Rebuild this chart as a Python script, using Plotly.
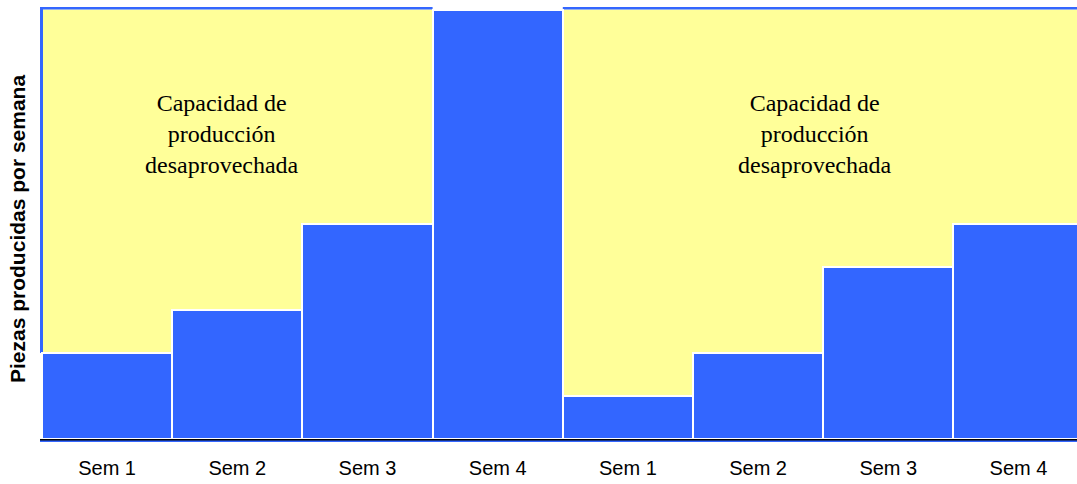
import plotly.graph_objects as go

# Weekly output for two four-week periods, against a weekly capacity of 10
semanas = ["Sem 1", "Sem 2", "Sem 3", "Sem 4", "Sem 1", "Sem 2", "Sem 3", "Sem 4"]
piezas = [2, 3, 5, 10, 1, 2, 4, 5]
capacidad = 10

AZUL = "#3366FF"
AMARILLO = "#FFFF99"

W, H = 1077, 484
M_L, M_T, M_B = 40, 7, 45
plot_w = W - M_L
plot_h = H - M_T - M_B

x_pos = list(range(len(semanas)))
px_per_bar = 130.2
x_lo = -0.5 - 2 / px_per_bar
x_hi = x_lo + plot_w / px_per_bar
y_hi = capacidad + 2.5 / 42.95

fig = go.Figure()
fig.add_trace(go.Bar(
    x=x_pos, y=piezas,
    marker=dict(color=AZUL, line=dict(color="white", width=2)),
    hoverinfo="skip",
))

shapes = []
# unused-capacity areas behind each period
for x0, x1 in [(-0.5, 3.5), (3.5, 7.5)]:
    shapes.append(dict(type="rect", xref="x", yref="y", x0=x0, x1=x1, y0=0, y1=capacidad,
                       fillcolor=AMARILLO, line_width=0, layer="below"))
# blue edge along the top of each area
for x0, x1 in [(x_lo, 2.5), (3.5, 7.6)]:
    shapes.append(dict(type="rect", xref="x", yref="y", x0=x0, x1=x1, y0=capacidad, y1=y_hi,
                       fillcolor=AZUL, line_width=0, layer="below"))
# blue edge on the left side of the first area
shapes.append(dict(type="rect", xref="x", yref="y", x0=x_lo, x1=-0.5 + 1 / px_per_bar,
                   y0=piezas[0], y1=y_hi, fillcolor=AZUL, line_width=0, layer="below"))
# blue line under the base axis
shapes.append(dict(type="line", xref="paper", yref="paper", x0=0, x1=1,
                   y0=-2.2 / plot_h, y1=-2.2 / plot_h, line=dict(color=AZUL, width=1.5)))

etiqueta = "Capacidad de<br>producción<br>desaprovechada"
annotations = [
    dict(x=xc, y=7.1, xref="x", yref="y", text=etiqueta, showarrow=False,
         font=dict(family="Liberation Serif, Times New Roman, serif", size=24, color="black"),
         align="center")
    for xc in (0.885, 5.438)
]
# vertical axis title
annotations.append(dict(
    x=(18 - M_L) / plot_w, y=1 - (229 - M_T) / plot_h, xref="paper", yref="paper",
    text="<b>Piezas producidas por semana</b>", textangle=-90, showarrow=False,
    xanchor="center", yanchor="middle",
    font=dict(family="Liberation Sans, Arial, sans-serif", size=21, color="black"),
))

fig.update_layout(
    width=W, height=H,
    margin=dict(l=M_L, r=0, t=M_T, b=M_B),
    paper_bgcolor="white", plot_bgcolor="white",
    bargap=0, showlegend=False,
    shapes=shapes, annotations=annotations,
    xaxis=dict(
        range=[x_lo, x_hi], tickmode="array", tickvals=x_pos, ticktext=semanas,
        showgrid=False, zeroline=False, showline=True, linecolor="black", linewidth=2,
        ticks="", tickfont=dict(family="Liberation Sans, Arial, sans-serif", size=20, color="black"),
        ticklabelstandoff=10,
    ),
    yaxis=dict(
        range=[0, y_hi], showgrid=False, zeroline=False, showticklabels=False, ticks="",
        showline=False,
    ),
)

fig.write_html("out.html")
